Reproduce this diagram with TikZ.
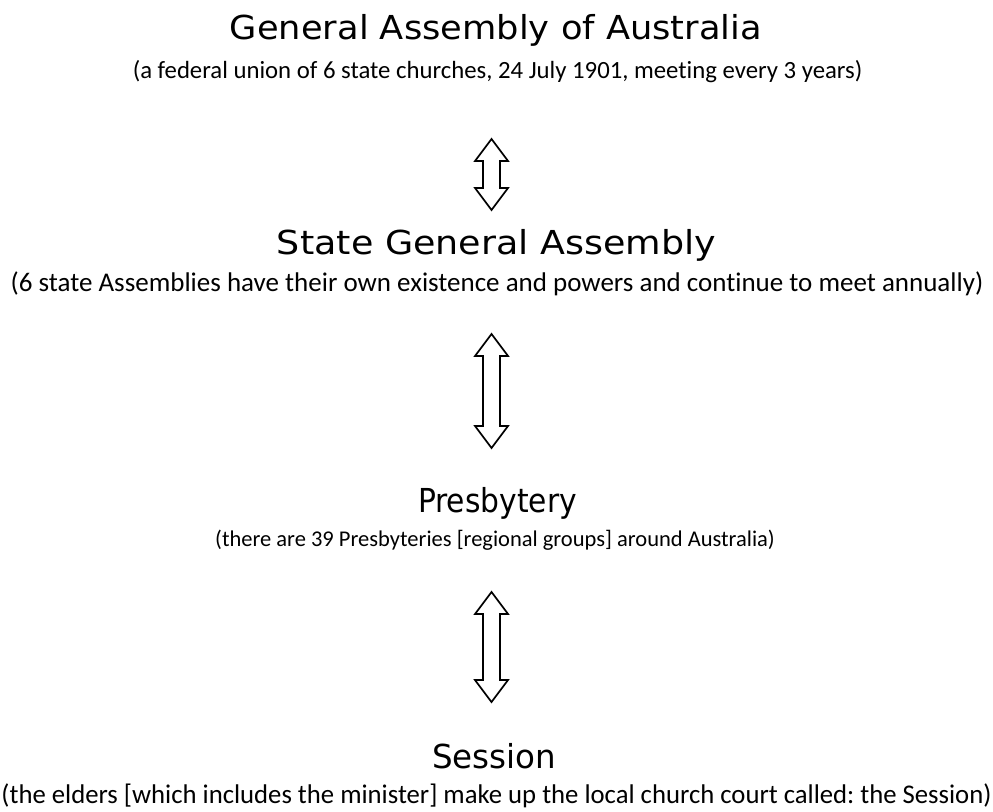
\documentclass[tikz,border=0pt]{standalone}
\usepackage{fontspec}
\usepackage{graphicx}
\setmainfont{Carlito}[Ligatures=NoCommon]
\newfontfamily\titlefont{DejaVu Sans}
\frenchspacing
\tikzset{
  titletext/.style={anchor=base, inner sep=0pt, font=\titlefont\fontsize{33}{36}\selectfont},
  subtext/.style={anchor=base, inner sep=0pt, font=\fontsize{22.5}{26}\selectfont},
  dblarrow/.style={draw=black, line width=1.7pt, line join=miter, fill=white}
}
\newcommand\twowayarrow[4]{% name, cx, top, bottom
  \path[dblarrow] (#2,#3) coordinate (#1top) -- ++(16.5,22) -- ++(-8,0) -- (#2+8.5,#4-22) -- ++(8,0)
    -- (#2,#4) coordinate (#1bot) -- ++(-16.5,-22) -- ++(8,0) -- (#2-8.5,#3+22) -- ++(-8,0) -- cycle;
}
\begin{document}
\begin{tikzpicture}[x=1pt,y=-1pt]
\useasboundingbox (0,0) rectangle (993,811);
\node[titletext] (t1) at (496,39) {\resizebox{532pt}{\height}{General Assembly of Australia}};
\node[subtext, font=\fontsize{24.75}{28}\selectfont] (s1) at (497.5,78) {(a federal union of 6 state churches, 24 July 1901, meeting every 3 years)};
\node[titletext] (t2) at (496.5,254) {\resizebox{439pt}{\height}{State General Assembly}};
\node[subtext, font=\fontsize{27}{30}\selectfont] (s2) at (497,291) {(6 state Assemblies have their own existence and powers and continue to meet annually)};
\node[titletext] (t3) at (497.5,512) {\resizebox{159pt}{\height}{Presbytery}};
\node[subtext] (s3) at (495,546) {(there are 39 Presbyteries [regional groups] around Australia)};
\node[titletext] (t4) at (494,768) {\resizebox{124pt}{\height}{Session}};
\node[subtext, font=\fontsize{27}{30}\selectfont] (s4) at (496.5,803) {\resizebox{990pt}{\height}{(the elders [which includes the minister] make up the local church court called: the Session)}};
\twowayarrow{a1}{491.5}{139}{210}
\twowayarrow{a2}{491.5}{334}{448}
\twowayarrow{a3}{491.5}{592}{702}
\end{tikzpicture}
\end{document}
